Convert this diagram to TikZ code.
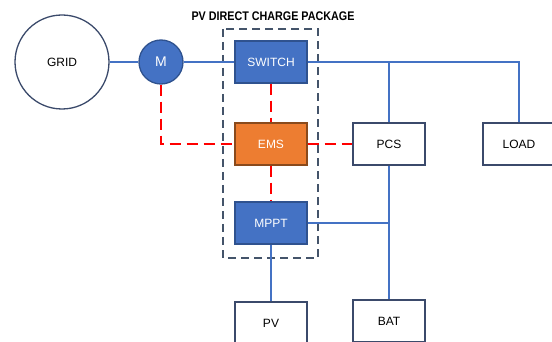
\documentclass[tikz,border=0pt]{standalone}
\usepackage{fontspec}
\setmainfont{Liberation Sans}
\definecolor{bfill}{HTML}{4472C4}
\definecolor{bdraw}{HTML}{2F528F}
\definecolor{ofill}{HTML}{ED7D31}
\definecolor{odraw}{HTML}{8A4A1C}
\definecolor{navy}{HTML}{3B4A6B}
\definecolor{slate}{HTML}{44546A}
\definecolor{wire}{HTML}{4472C4}
\definecolor{sig}{HTML}{FF0000}
\begin{document}
\begin{tikzpicture}[x=1pt,y=-1pt,
  every node/.style={font=\fontsize{12}{14}\selectfont},
  bluebox/.style={draw=bdraw,fill=bfill,line width=1.3pt,minimum width=72pt,minimum height=42pt,inner sep=0pt,text=white},
  orangebox/.style={draw=odraw,fill=ofill,line width=1.3pt,minimum width=72pt,minimum height=42pt,inner sep=0pt,text=white},
  whitebox/.style={draw=navy,fill=white,line width=1.3pt,minimum width=72pt,minimum height=42pt,inner sep=0pt,text=black},
  power/.style={draw=wire,line width=1.4pt},
  signal/.style={draw=sig,line width=1.8pt,dash pattern=on 11pt off 6pt},
  pkg/.style={draw=slate,line width=1.4pt,dash pattern=on 8pt off 5pt}]
\useasboundingbox (0,0) rectangle (552,342);
\clip (0,0) rectangle (552,342);
% package frame
\draw[pkg] (223,29) rectangle (318,258);
\node[font=\bfseries\fontsize{12.5}{14}\selectfont] (title) at (273,16) {\scalebox{0.86}[1]{PV DIRECT CHARGE PACKAGE}};
% nodes
\node[circle,draw=navy,line width=1.3pt,fill=white,minimum size=94pt,inner sep=0pt] (grid) at (62,62) {GRID};
\node[circle,draw=bdraw,fill=bfill,line width=1.3pt,minimum size=44pt,inner sep=0pt,text=white,font=\fontsize{14}{16}\selectfont] (m) at (161,62) {M};
\node[bluebox] (switch) at (271,62) {SWITCH};
\node[orangebox] (ems) at (271,144) {EMS};
\node[bluebox] (mppt) at (271,223) {MPPT};
\node[whitebox] (pcs) at (389,144) {PCS};
\node[whitebox] (load) at (519,144) {LOAD};
\node[whitebox] (pv) at (271,323) {PV};
\node[whitebox] (bat) at (389,321) {BAT};
\coordinate (jpcs) at (pcs.north |- switch.east);
\coordinate (jload) at (load.north |- switch.east);
\coordinate (jbat) at (pcs.south |- mppt.east);
\coordinate (mcorner) at (m.south |- ems.west);
% power lines
\draw[power] (grid.east) -- (m.west);
\draw[power] (m.east) -- (switch.west);
\draw[power] (switch.east) -- (jload) -- (load.north);
\draw[power] (jpcs) -- (pcs.north);
\draw[power] (pcs.south) -- (bat.north);
\draw[power] (mppt.east) -- (jbat);
\draw[power] (mppt.south) -- (pv.north);
% signal lines
\draw[signal] (switch.south) -- (ems.north);
\draw[signal] (ems.south) -- (mppt.north);
\draw[signal] (ems.east) -- (pcs.west);
\draw[signal] (m.south) -- (mcorner) -- (ems.west);
\end{tikzpicture}
\end{document}
